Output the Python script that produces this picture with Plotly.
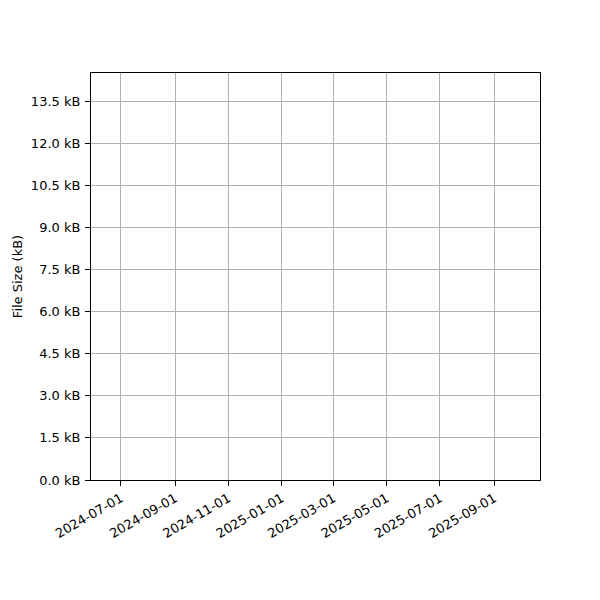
import plotly.graph_objects as go

# no data points are plotted in the reference (empty series)
dates = []
sizes_kb = []

x_ticks = ["2024-07-01", "2024-09-01", "2024-11-01", "2025-01-01",
           "2025-03-01", "2025-05-01", "2025-07-01", "2025-09-01"]
y_ticks = [0.0, 1.5, 3.0, 4.5, 6.0, 7.5, 9.0, 10.5, 12.0, 13.5]

fig = go.Figure()
fig.add_trace(go.Scatter(x=dates, y=sizes_kb, mode="lines",
                         line=dict(color="#1f77b4"), showlegend=False))

fig.update_layout(
    width=600, height=600,
    margin=dict(l=83, r=68, t=65, b=128),
    plot_bgcolor="white", paper_bgcolor="white",
    font=dict(family="DejaVu Sans", size=13, color="black"),
    showlegend=False,
)

fig.update_xaxes(
    type="date",
    range=["2024-05-27 18:00", "2025-10-23 12:00"],
    tickvals=x_ticks, ticktext=x_ticks,
    tickangle=-30,
    showgrid=True, gridcolor="#b0b0b0", gridwidth=1,
    showline=True, linecolor="black", linewidth=1, mirror=True,
    ticks="outside", ticklen=5, tickcolor="black",
    zeroline=False, automargin=False,
)
fig.update_yaxes(
    range=[0, 14.51],
    tickvals=y_ticks,
    ticktext=[f"{v:.1f} kB" for v in y_ticks],
    showgrid=True, gridcolor="#b0b0b0", gridwidth=1,
    showline=True, linecolor="black", linewidth=1, mirror=True,
    ticks="outside", ticklen=5, tickcolor="black", ticklabelstandoff=2,
    zeroline=False, automargin=False,
    title=dict(text="File Size (kB)", standoff=5, font=dict(size=13)),
)

fig.write_html("out.html")
